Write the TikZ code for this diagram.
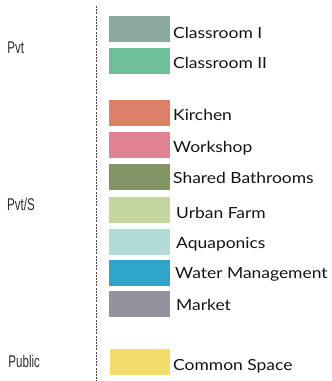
\documentclass[tikz,border=0pt]{standalone}
\usepackage{fontspec}
\setmainfont[FakeStretch=1.14]{Lato}
\newfontfamily\narrowfont[FakeStretch=0.68]{Liberation Sans}
\definecolor{cA}{HTML}{8BA8A0}
\definecolor{cB}{HTML}{6DC098}
\definecolor{cC}{HTML}{DC806A}
\definecolor{cD}{HTML}{E08294}
\definecolor{cE}{HTML}{829466}
\definecolor{cF}{HTML}{C3D6A2}
\definecolor{cG}{HTML}{B3DCD8}
\definecolor{cH}{HTML}{2FA5CB}
\definecolor{cI}{HTML}{95929F}
\definecolor{cJ}{HTML}{F2DD6B}
\definecolor{txt}{HTML}{141414}
\begin{document}
\begin{tikzpicture}[x=1pt,y=-1pt,
  swatch/.style={draw=none,inner sep=0pt,minimum width=61pt,minimum height=26pt,anchor=north west},
  lbl/.style={inner sep=0pt,anchor=base west,text=txt,font=\fontsize{15.3}{16}\selectfont},
  side/.style={inner sep=0pt,anchor=base west,text=txt!90!white,font=\narrowfont\fontsize{17}{18}\selectfont},
  divider/.style={draw=black!72,line width=1.3pt,dash pattern=on 2pt off 1.2pt}]
\useasboundingbox (0,0) rectangle (332,381);
\coordinate (dtop) at (96.5,6);
\coordinate (dbot) at (96.5,381);
\draw[divider] (dtop) -- (dbot);
% swatches
\node[swatch,fill=cA] (s1) at (109,16) {};
\node[swatch,fill=cB] (s2) at (109,48) {};
\node[swatch,fill=cC] (s3) at (109,100) {};
\node[swatch,fill=cD] (s4) at (109,132) {};
\node[swatch,fill=cE] (s5) at (109,164) {};
\node[swatch,fill=cF] (s6) at (109,197) {};
\node[swatch,fill=cG] (s7) at (109,229) {};
\node[swatch,fill=cH] (s8) at (109,260) {};
\node[swatch,fill=cI] (s9) at (109,291) {};
\node[swatch,fill=cJ,minimum width=60pt] (s10) at (110,349) {};
% labels
\node[lbl] (l1) at (173,38) {Classroom I};
\node[lbl] (l2) at (173,68.3) {Classroom II};
\node[lbl] (l3) at (173,120.7) {Kirchen};
\node[lbl] (l4) at (173,152) {Workshop};
\node[lbl] (l5) at (173,183.3) {Shared Bathrooms};
\node[lbl] (l6) at (176,218.3) {Urban Farm};
\node[lbl] (l7) at (176,248.3) {Aquaponics};
\node[lbl] (l8) at (175,278.5) {Water Management};
\node[lbl] (l9) at (176,310) {Market};
\node[lbl] (l10) at (173,370) {Common Space};
% side labels
\node[side] (p1) at (7.3,53.5) {Pvt};
\node[side] (p2) at (7,210) {Pvt/S};
\node[side] (p3) at (8.3,367.5) {Public};
\end{tikzpicture}
\end{document}
